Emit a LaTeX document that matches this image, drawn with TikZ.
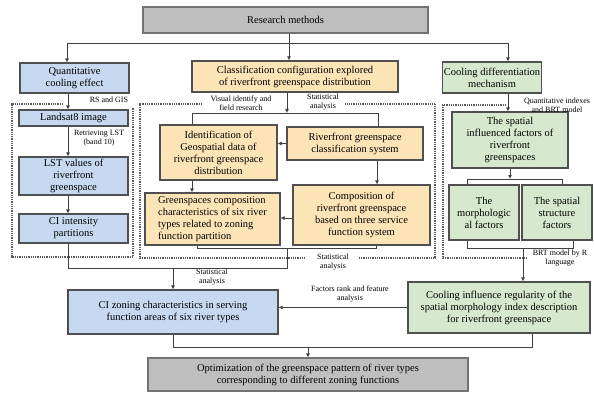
\documentclass[tikz,border=0pt]{standalone}
\usepackage{fontspec}
\setmainfont{Liberation Serif}
\usetikzlibrary{arrows.meta}
\definecolor{bluef}{HTML}{C6D9F0}
\definecolor{orf}{HTML}{FCE4B6}
\definecolor{grf}{HTML}{D6E9CF}
\definecolor{grayf}{HTML}{BFBFBF}
\definecolor{bd}{HTML}{505050}
\definecolor{ln}{HTML}{404040}
\tikzset{
  box/.style={draw=bd, line width=1.1pt, inner sep=1pt, align=center, font=\fontsize{10.5}{12}\selectfont},
  bluebox/.style={box, fill=bluef},
  orbox/.style={box, fill=orf},
  grbox/.style={box, fill=grf},
  graybox/.style={box, fill=grayf, draw=black!55},
  conn/.style={draw=ln, line width=0.8pt},
  arr/.style={conn, -{Latex[length=4pt,width=4pt]}},
  lbl/.style={font=\fontsize{8}{8.8}\selectfont, align=center, inner sep=0.5pt},
  cont/.style={draw=black!65, line width=1.1pt, dash pattern=on 1pt off 0.8pt}
}
\begin{document}
\begin{tikzpicture}[x=1pt,y=-1pt]
\useasboundingbox (0,0) rectangle (594,393);
\fill[white] (0,0) rectangle (594,393);

% containers
\draw[cont] (63,104) -- (12,104) -- (12,257) -- (133,257) -- (133,108);
\draw[cont] (202,104) -- (140,104) -- (140,258) -- (305,258);
\draw[cont] (359,258) -- (435,258) -- (435,104) -- (345,104);
\draw[cont] (506,105) -- (443,105) -- (443,258) -- (527,258);

% boxes
\node[graybox, minimum width=285pt, minimum height=26pt] (rm) at (285.5,20) {Research methods};
\node[bluebox, minimum width=109pt, minimum height=30pt] (qce) at (74.5,78) {Quantitative\\cooling effect};
\node[orbox, minimum width=206pt, minimum height=31pt] (ccr) at (295,76.5) {Classification configuration explored\\of riverfront greenspace distribution};
\node[grbox, minimum width=98pt, minimum height=31pt] (cdm) at (492,77.5) {Cooling differentiation\\mechanism};
\node[bluebox, minimum width=109pt, minimum height=16pt] (l8) at (73.5,118) {Landsat8 image};
\node[bluebox, minimum width=109pt, minimum height=38pt] (lst) at (73.5,176) {LST values of\\riverfront\\greenspace};
\node[bluebox, minimum width=109pt, minimum height=29pt] (ci) at (73.5,228.5) {CI intensity\\partitions};
\node[orbox, minimum width=117pt, minimum height=55pt] (id) at (218.5,152.5) {Identification of\\Geospatial data of\\riverfront greenspace\\distribution};
\node[orbox, minimum width=136pt, minimum height=33pt] (rgc) at (355,143.5) {Riverfront greenspace\\classification system};
\node[orbox, minimum width=135pt, minimum height=52pt, align=left] (gcc) at (212.5,219) {Greenspaces composition\\characteristics of six river\\types related to zoning\\function partition};
\node[orbox, minimum width=137pt, minimum height=60pt] (comp) at (361.5,215) {Composition of\\riverfront greenspace\\based on three service\\function system};
\node[grbox, minimum width=116pt, minimum height=56pt] (sif) at (510,140) {The spatial\\influenced factors of\\riverfront\\greenspaces};
\node[grbox, minimum width=70pt, minimum height=55pt] (mf) at (484,212.5) {The\\morphologic\\al factors};
\node[grbox, minimum width=70pt, minimum height=55pt] (ssf) at (557,212.5) {The spatial\\structure\\factors};
\node[bluebox, minimum width=210pt, minimum height=44pt] (ciz) at (173,312) {CI zoning characteristics in serving\\function areas of six river types};
\node[grbox, minimum width=182pt, minimum height=51pt] (cir) at (499,307.5) {Cooling influence regularity of the\\spatial morphology index description\\for riverfront greenspace};
\node[graybox, minimum width=320pt, minimum height=33pt] (opt) at (308,374.5) {Optimization of the greenspace pattern of river types\\corresponding to different zoning functions};

% labels
\node[lbl] (la) at (109,100) {RS and GIS};
\node[lbl] (lb) at (99,138) {Retrieving LST\\(band 10)};
\node[lbl] (lc) at (241,103) {Visual identify and\\field research};
\node[lbl] (ld) at (323,102) {Statistical\\analysis};
\node[lbl] (le) at (557,105) {Quantitative indexes\\and BRT model};
\node[lbl] (lf) at (333,262) {Statistical\\analysis};
\node[lbl] (lg) at (212,277) {Statistical\\analysis};
\node[lbl] (lh) at (560,258) {BRT model by R\\language};
\node[lbl] (li) at (350,294) {Factors rank and feature\\analysis};

% top distribution
\coordinate (t0) at (67,43);
\coordinate (t1) at (289,43);
\coordinate (t2) at (508,43);
\draw[conn] (rm.south -| t1) -- (t1);
\draw[conn] (t0) -- (t2);
\draw[arr] (t0) -- (qce.north -| t0);
\draw[arr] (t1) -- (ccr.north -| t1);
\draw[arr] (t2) -- (cdm.north -| t2);

% left column
\coordinate (xl) at (68,0);
\draw[arr] (qce.south -| xl) -- (l8.north -| xl);
\draw[arr] (l8.south -| xl) -- (lst.north -| xl);
\draw[arr] (lst.south -| xl) -- (ci.north -| xl);

% middle column
\coordinate (m0) at (287,113);
\coordinate (m1) at (192,113);
\coordinate (m2) at (378,113);
\draw[arr] (ccr.south -| m0) -- (m0);
\draw[conn] (id.north -| m1) -- (m1) -- (m2) -- (rgc.north -| m2);
\draw[arr] (rgc.west) -- (rgc.west -| id.east);
\coordinate (m3) at (377,0);
\draw[arr] (rgc.south -| m3) -- (comp.north -| m3);
\coordinate (m4) at (192,0);
\draw[arr] (id.south -| m4) -- (gcc.north -| m4);
\coordinate (m5) at (0,218);
\draw[arr] (comp.west |- m5) -- (gcc.east |- m5);

% bottom of left and middle
\coordinate (j1) at (68,268);
\coordinate (j2) at (287,268);
\coordinate (j3) at (287,248);
\coordinate (b1) at (197,248);
\coordinate (b2) at (376,248);
\coordinate (j4) at (173,268);
\draw[conn] (ci.south -| j1) -- (j1) -- (j2) -- (j3);
\draw[conn] (gcc.south -| b1) -- (b1) -- (b2) -- (comp.south -| b2);
\draw[arr] (j4) -- (ciz.north -| j4);

% right column
\coordinate (r0) at (508,0);
\draw[arr] (cdm.south -| r0) -- (sif.north -| r0);
\coordinate (r1) at (510,179);
\coordinate (r2) at (467,179);
\coordinate (r3) at (562,179);
\draw[arr] (sif.south -| r1) -- (r1);
\draw[conn] (mf.north -| r2) -- (r2) -- (r3) -- (ssf.north -| r3);
\coordinate (r4) at (467,248);
\coordinate (r5) at (573,248);
\coordinate (r6) at (523,248);
\draw[conn] (mf.south -| r4) -- (r4) -- (r5) -- (ssf.south -| r5);
\draw[arr] (r6) -- (cir.north -| r6);
\draw[arr] (cir.west) -- (cir.west -| ciz.east);

% bottom
\coordinate (k1) at (173,347);
\coordinate (k2) at (532,347);
\coordinate (k3) at (308,347);
\draw[conn] (ciz.south -| k1) -- (k1) -- (k2) -- (cir.south -| k2);
\draw[arr] (k3) -- (opt.north -| k3);
\end{tikzpicture}
\end{document}
